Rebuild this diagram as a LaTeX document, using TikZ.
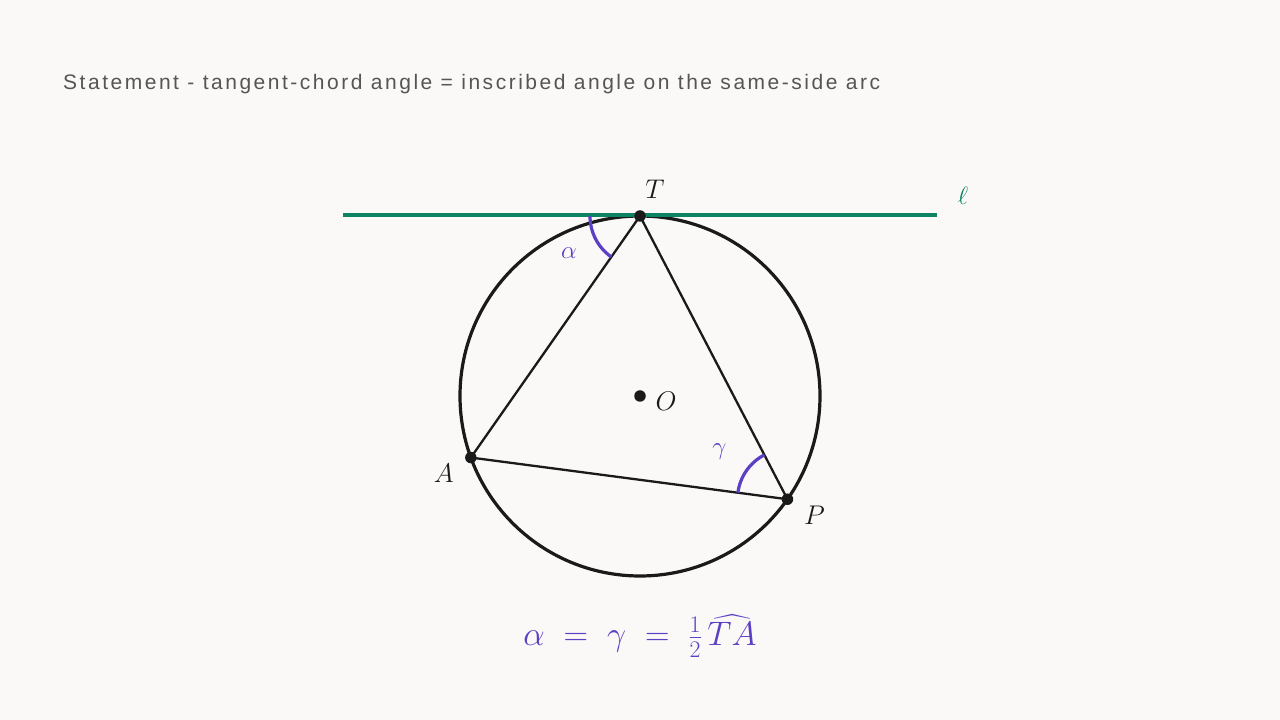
\RequirePackage{fix-cm}
\documentclass[tikz,border=0pt]{standalone}
\usepackage{fontspec}
\usepackage{amsmath}
\newfontfamily\titlefont[LetterSpace=12]{Liberation Sans}
\usetikzlibrary{calc}
\definecolor{bgc}{HTML}{FAF9F7}
\definecolor{tangc}{HTML}{0C8463}
\definecolor{angc}{HTML}{5B3FC4}
\definecolor{titc}{HTML}{555555}
\definecolor{inkc}{HTML}{1A1A1A}
\tikzset{
  circ/.style={draw=inkc, line width=3.2pt},
  chord/.style={draw=inkc, line width=2.3pt},
  tang/.style={draw=tangc, line width=3.2pt},
  angarc/.style={draw=angc, line width=3.2pt},
  pt/.style={circle, fill=inkc, inner sep=0pt, minimum size=11.5pt},
  lbl/.style={text=inkc, font=\fontsize{27}{31}\selectfont},
  anglbl/.style={text=angc, font=\fontsize{25}{29}\selectfont},
}
\begin{document}
\begin{tikzpicture}[x=1pt,y=1pt]
\useasboundingbox (0,0) rectangle (1280,720);
\fill[bgc] (0,0) rectangle (1280,720);
\node[anchor=base west, text=titc, font=\titlefont\fontsize{21}{25}\selectfont, inner sep=0pt] (title) at (63,630) {Statement - tangent-chord angle = inscribed angle on the same-side arc};
\coordinate (O) at (640,324);
\coordinate (T) at ($(O)+(90:180)$);
\coordinate (A) at ($(O)+(200:180)$);
\coordinate (P) at ($(O)+(-35:180)$);
\coordinate (L1) at (343,505);
\coordinate (L2) at (937,505);
\draw[circ] (O) circle (180);
\draw[chord] (T) -- (A) -- (P) -- cycle;
\draw[tang] (L1) -- (L2);
\draw[angarc] ([shift={(180:50)}]T) arc (180:235:50);
\draw[angarc] ([shift={(117.5:50)}]P) arc (117.5:172.5:50);
\node[pt] (Tn) at (T) {};
\node[pt] (An) at (A) {};
\node[pt] (Pn) at (P) {};
\node[pt] (On) at (O) {};
\node[lbl] (Tl) at ($(T)+(15,27)$) {$T$};
\node[lbl] (Al) at ($(A)+(-27,-16)$) {$A$};
\node[lbl] (Pl) at ($(P)+(27,-16)$) {$P$};
\node[lbl] (Ol) at ($(O)+(26,-5)$) {$O$};
\node[text=tangc, font=\fontsize{25}{29}\selectfont] (ell) at (963,524) {$\ell$};
\node[anglbl] (al) at ($(T)+(207.5:80)$) {$\alpha$};
\node[anglbl] (gl) at ($(P)+(145:83)$) {$\gamma$};
\node[anchor=base, text=angc, font=\fontsize{34}{40}\selectfont] (form) at (640,74) {$\alpha \;=\; \gamma \;=\; \tfrac{1}{2}\,\widehat{TA}$};
\end{tikzpicture}
\end{document}
